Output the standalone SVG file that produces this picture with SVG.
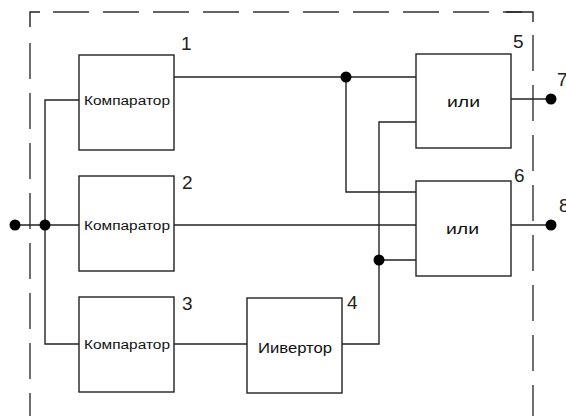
<svg xmlns="http://www.w3.org/2000/svg" width="566" height="416" viewBox="0 0 566 416">
<style>
.box{fill:#fff;stroke:#222;stroke-width:1.4}
.w{fill:none;stroke:#222;stroke-width:1.4}
.dash{fill:none;stroke:#333;stroke-width:1.4;stroke-dasharray:36 14}
.dot{fill:#000}
.lbl{font-family:"Liberation Sans",Arial,sans-serif;font-size:12.5px;fill:#111}
.gate{font-family:"Liberation Sans",Arial,sans-serif;font-size:15px;fill:#111}
.num{font-family:"Liberation Sans",Arial,sans-serif;font-size:19px;fill:#222}
</style>
<rect width="566" height="416" fill="#fff"/>
<g id="border">
<path class="w" d="M30,27 V12 H40"/>
<line class="dash" x1="53" y1="12" x2="522" y2="12"/>
<path class="w" d="M506,12 H533 V22"/>
<line class="dash" x1="30" y1="43" x2="30" y2="416"/>
<line class="dash" x1="533" y1="35" x2="533" y2="416"/>
</g>
<g id="connectors">
<path class="w" d="M15,225 H79"/>
<path class="w" d="M79,100 H45 V344 H79"/>
<path class="w" d="M174,77 H416"/>
<path class="w" d="M346,77 V192 H416"/>
<path class="w" d="M174,225 H416"/>
<path class="w" d="M174,344 H247"/>
<path class="w" d="M342,344 H379 V122 H416"/>
<path class="w" d="M379,260 H416"/>
<path class="w" d="M511,99 H551"/>
<path class="w" d="M511,225 H551"/>
<circle class="dot" cx="15" cy="225" r="5.5"/>
<circle class="dot" cx="45" cy="225" r="5.5"/>
<circle class="dot" cx="346" cy="77" r="5.5"/>
<circle class="dot" cx="379" cy="260" r="5.5"/>
<circle class="dot" cx="551" cy="99" r="5.5"/>
<circle class="dot" cx="551" cy="225" r="5.5"/>
</g>
<g id="comp1">
<rect class="box" x="79" y="55" width="95" height="95"/>
<text class="lbl" x="84" y="105" textLength="86" lengthAdjust="spacingAndGlyphs">Компаратор</text>
<text class="num" x="181" y="50">1</text>
</g>
<g id="comp2">
<rect class="box" x="79" y="176" width="95" height="95"/>
<text class="lbl" x="84" y="230" textLength="86" lengthAdjust="spacingAndGlyphs">Компаратор</text>
<text class="num" x="182" y="189">2</text>
</g>
<g id="comp3">
<rect class="box" x="79" y="297" width="95" height="95"/>
<text class="lbl" x="84" y="349" textLength="86" lengthAdjust="spacingAndGlyphs">Компаратор</text>
<text class="num" x="182" y="310">3</text>
</g>
<g id="inverter">
<rect class="box" x="247" y="298" width="95" height="95"/>
<text class="lbl" x="258" y="353" style="font-size:14px" textLength="74" lengthAdjust="spacingAndGlyphs">Иивертор</text>
<text class="num" x="347" y="309">4</text>
</g>
<g id="or5">
<rect class="box" x="416" y="54" width="95" height="94"/>
<text class="gate" x="447" y="107" textLength="33" lengthAdjust="spacingAndGlyphs">или</text>
<text class="num" x="513" y="48">5</text>
</g>
<g id="or6">
<rect class="box" x="416" y="181" width="95" height="95"/>
<text class="gate" x="446" y="234" textLength="33" lengthAdjust="spacingAndGlyphs">или</text>
<text class="num" x="514" y="182">6</text>
</g>
<g id="outputs">
<text class="num" x="557" y="86">7</text>
<text class="num" x="559" y="212">8</text>
</g>
</svg>
